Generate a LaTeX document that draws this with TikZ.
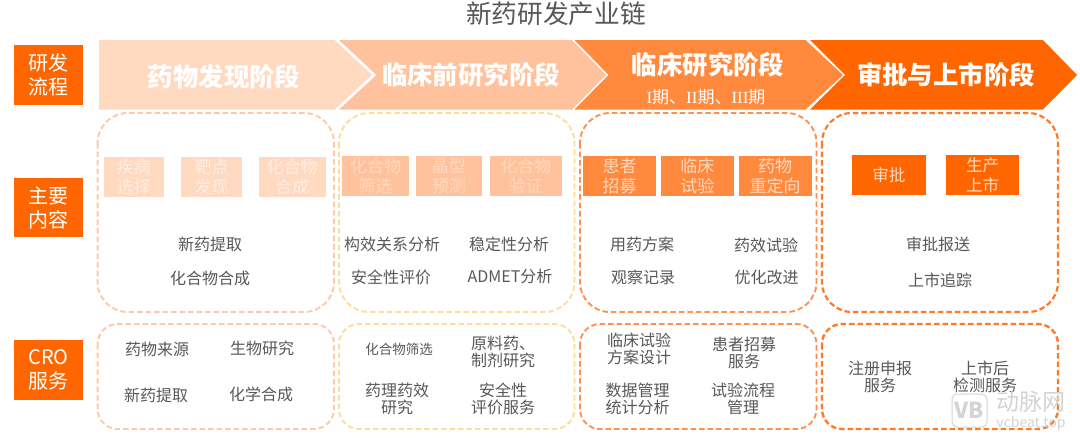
\documentclass[tikz,border=0pt]{standalone}
\usepackage{fontspec}
\setmainfont{Noto Sans CJK SC}
\newfontfamily\romanfont{Liberation Serif}
\definecolor{ca}{HTML}{FFD9C0}
\definecolor{cb}{HTML}{FFC29C}
\definecolor{cc}{HTML}{FF8A3E}
\definecolor{cd}{HTML}{FF6600}
\definecolor{da}{HTML}{FFC8A8}
\definecolor{db}{HTML}{FFDC9E}
\definecolor{dc}{HTML}{FF9050}
\definecolor{dd}{HTML}{FF7A26}
\definecolor{body}{HTML}{585858}
\definecolor{wm}{HTML}{D4D4D4}
\tikzset{
  chev/.style={fill=#1,draw=none},
  chevtext/.style={text=white,inner sep=0pt,font=\fontsize{25.4}{30}\selectfont\bfseries},
  side/.style={fill=cd,draw=none},
  sidetext/.style={text=white,inner sep=0pt,align=center,font=\fontsize{20}{24}\selectfont},
  dbox/.style={draw=#1,line width=1.9pt,dash pattern=on 5.5pt off 3pt},
  small/.style={fill=#1,draw=none},
  smalltext/.style={inner sep=0pt,align=center,font=\fontsize{17}{19.5}\selectfont},
  item/.style={text=body,inner sep=0pt,yshift=-0.3pt,align=center,font=\fontsize{16}{17}\selectfont},
}
\begin{document}
\begin{tikzpicture}[x=1pt,y=-1pt]
\useasboundingbox (0,0) rectangle (1080,440);
\fill[white] (0,0) rectangle (1080,440);
% title
\node[text=body,inner sep=0pt,font=\fontsize{25.7}{30}\selectfont] (title) at (556,14) {新药研发产业链};
% left labels
\path[side] (14,45) rectangle (83,105) node[midway,sidetext] (s1) {研发\\流程};
\path[side] (14,178) rectangle (83,237) node[midway,sidetext] (s2) {主要\\内容};
\path[side] (14,340) rectangle (83,400) node[midway,sidetext] (s3) {CRO\\服务};
% chevrons
\fill[ca] (99,40) -- (334.5,40) -- (372,75) -- (334.5,109.5) -- (99,109.5) -- cycle;
\fill[cb] (339,40) -- (572,40) -- (606,75) -- (572,109.5) -- (339,109.5) -- (376.5,75) -- cycle;
\fill[cc] (574.5,40) -- (805.5,40) -- (843,75) -- (805.5,109.5) -- (574.5,109.5) -- (608.5,75) -- cycle;
\fill[cd] (810,40) -- (1043,40) -- (1077,75) -- (1043,109.5) -- (810,109.5) -- (845,75) -- cycle;
\node[chevtext] (c1) at (224,77) {药物发现阶段};
\node[chevtext] (c2) at (471,75) {临床前研究阶段};
\node[chevtext] (c3) at (708,65) {临床研究阶段};
\node[text=white,inner sep=0pt,font=\fontsize{17}{18}\selectfont] (c3b) at (706,97) {{\romanfont I}期、{\romanfont II}期、{\romanfont III}期};
\node[chevtext] (c4) at (946,75) {审批与上市阶段};
% dashed frames row 1
\draw[dbox=da,rounded corners=30pt] (97.6,113) rectangle (334,312);
\draw[dbox=db,rounded corners=30pt] (339,113) rectangle (574.5,312);
\draw[dbox=dc,rounded corners=30pt] (580,113) rectangle (816.5,312);
\draw[dbox=dd,rounded corners=30pt,line width=2.2pt] (822,113) rectangle (1058,312);
% dashed frames row 2
\draw[dbox=da,rounded corners=20pt] (97.6,324) rectangle (334,429);
\draw[dbox=db,rounded corners=20pt] (339,324) rectangle (574.5,429);
\draw[dbox=dc,rounded corners=20pt] (580,324) rectangle (816.5,429);
\draw[dbox=dd,rounded corners=20pt,line width=2.4pt] (822,324) rectangle (1058,429);
% small boxes
\path[small=ca] (103.5,157) rectangle (164,197) node[midway,smalltext,text=ca!45!white] (b1) {疾病\\选择};
\path[small=ca] (181,157) rectangle (242,197) node[midway,smalltext,text=ca!45!white] (b2) {靶点\\发现};
\path[small=ca] (258.6,157) rectangle (325.5,197) node[midway,smalltext,text=ca!45!white] (b3) {化合物\\合成};
\path[small=cb] (342,156) rectangle (409,196) node[midway,smalltext,text=ca] (b4) {化合物\\筛选};
\path[small=cb] (415.5,156) rectangle (482,196) node[midway,smalltext,text=ca] (b5) {晶型\\预测};
\path[small=cb] (489.6,156) rectangle (562,196) node[midway,smalltext,text=ca] (b6) {化合物\\验证};
\path[small=cc] (583.4,156) rectangle (656,196) node[midway,smalltext,text=ca] (b7) {患者\\招募};
\path[small=cc] (660.7,156) rectangle (734,196) node[midway,smalltext,text=ca] (b8) {临床\\试验};
\path[small=cc] (738.6,156) rectangle (811.7,196) node[midway,smalltext,text=ca] (b9) {药物\\重定向};
\path[small=cd] (852,155) rectangle (925.5,195) node[midway,smalltext,text=ca,font=\fontsize{16.5}{19.5}\selectfont] (b10) {审批};
\path[small=cd] (946,155) rectangle (1019,195) node[midway,smalltext,text=ca,font=\fontsize{16.5}{19.5}\selectfont] (b11) {生产\\上市};
% row 1 items
\node[item] (r1) at (210,244) {新药提取};
\node[item] (r2) at (210,278) {化合物合成};
\node[item] (r3) at (392,244) {构效关系分析};
\node[item] (r4) at (391,277) {安全性评价};
\node[item] (r5) at (509,244) {稳定性分析};
\node[item] (r6) at (510,276) {ADMET分析};
\node[item] (r7) at (642,244) {用药方案};
\node[item] (r8) at (643,277) {观察记录};
\node[item] (r9) at (766,245) {药效试验};
\node[item] (r10) at (766.5,277) {优化改进};
\node[item] (r11) at (938,244) {审批报送};
\node[item] (r12) at (940,280) {上市追踪};
% row 2 items
\node[item] (q1) at (157,349) {药物来源};
\node[item] (q2) at (262,348) {生物研究};
\node[item] (q3) at (156,395) {新药提取};
\node[item] (q4) at (261,394) {化学合成};
\node[item,font=\fontsize{13.5}{17}\selectfont] (q5) at (399,349) {化合物筛选};
\node[item,align=left] (q6) at (503,352) {原料药、\\制剂研究};
\node[item] (q7) at (397,399) {药理药效\\研究};
\node[item] (q8) at (503,399) {安全性\\评价服务};
\node[item] (q9) at (639,349) {临床试验\\方案设计};
\node[item] (q10) at (744,353) {患者招募\\服务};
\node[item] (q11) at (637.6,399) {数据管理\\统计分析};
\node[item] (q12) at (743,399) {试验流程\\管理};
\node[item] (q13) at (880,377) {注册申报\\服务};
\node[item] (q14) at (985,377) {上市后\\检测服务};
% watermark
\draw[wm,line width=1pt,rounded corners=5pt,fill=white,fill opacity=.6] (952,394) rectangle (987,427);
\node[text=wm,inner sep=0pt,font=\fontsize{22}{24}\selectfont\bfseries] (w1) at (969.5,410.5) {VB};
\node[text=wm,inner sep=0pt,font=\fontsize{23}{24}\selectfont] (w2) at (1030.5,402) {动脉网};
\node[text=wm,inner sep=0pt,font=\fontsize{14}{15}\selectfont] (w3) at (1031,423.5) {vcbeat.top};
\end{tikzpicture}
\end{document}
